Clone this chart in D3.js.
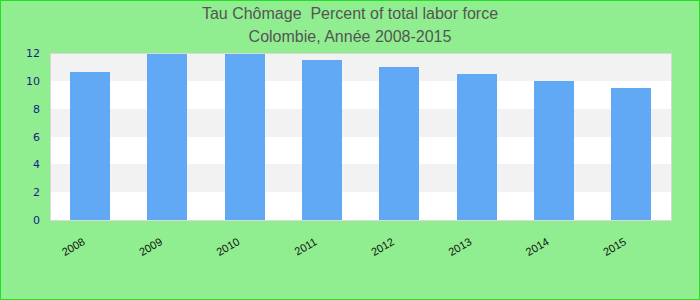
<!DOCTYPE html>
<html><head><meta charset="utf-8">
<script src="https://cdn.jsdelivr.net/npm/d3@7/dist/d3.min.js"></script>
<style>body{margin:0;background:#fff}svg{display:block}</style>
</head><body>
<svg id="c" width="700" height="300"></svg>
<script>
const years = ["2008","2009","2010","2011","2012","2013","2014","2015"];
const unemployment = [10.6, 11.9, 11.9, 11.5, 11.0, 10.5, 10.0, 9.5];
const yTicks = [0, 2, 4, 6, 8, 10, 12];
const titleLines = ["Tau Chômage  Percent of total labor force", "Colombie, Année 2008-2015"];

const svg = d3.select("#c");
const W = 700, H = 300;
const m = {left: 50, right: 29, top: 53, bottom: 80};
const pw = W - m.left - m.right, ph = H - m.top - m.bottom;

svg.append("rect").attr("x", 0.5).attr("y", 0.5).attr("width", W - 1).attr("height", H - 1)
  .attr("fill", "#90ee90").attr("stroke", "#22e022").attr("stroke-width", 1);

svg.selectAll("text.title").data(titleLines).enter().append("text")
  .attr("x", W / 2).attr("y", (d, i) => 19 + i * 23)
  .attr("text-anchor", "middle").attr("fill", "#555")
  .style("white-space", "pre")
  .style("font-family", "'Liberation Sans', Arial, sans-serif").style("font-size", "16px")
  .text(d => d);

const x = d3.scaleBand().domain(years).range([m.left, m.left + pw]).paddingInner(0.4843).paddingOuter(0.2578);
const y = d3.scaleLinear().domain([0, 12]).range([m.top + ph, m.top]);

const g = svg.append("g").attr("shape-rendering", "crispEdges");
const bands = d3.range(0, yTicks.length - 1).map(i => [yTicks[i], yTicks[i + 1], i]);
g.selectAll("rect.band").data(bands).enter().append("rect")
  .attr("x", m.left).attr("width", pw)
  .attr("y", d => Math.round(y(d[1]))).attr("height", d => Math.round(y(d[0])) - Math.round(y(d[1])))
  .attr("fill", d => d[2] % 2 === 0 ? "#ffffff" : "#f2f2f2");

g.selectAll("rect.bar").data(unemployment).enter().append("rect")
  .attr("x", (d, i) => Math.round(x(years[i]))).attr("width", Math.round(x.bandwidth()))
  .attr("y", d => Math.round(y(d))).attr("height", d => Math.round(y(0)) - Math.round(y(d)))
  .attr("fill", "#62a9f5");

g.append("rect").attr("x", m.left).attr("y", m.top).attr("width", pw).attr("height", ph)
  .attr("fill", "none").attr("stroke", "#d8d8d8").attr("stroke-width", 1);

const ya = svg.append("g").attr("transform", `translate(${m.left},0)`)
  .call(d3.axisLeft(y).tickValues(yTicks).tickSize(0).tickPadding(10));
ya.select(".domain").remove();
ya.selectAll("text").attr("fill", "#1a1a8c")
  .style("font-family", "'DejaVu Sans', sans-serif").style("font-size", "11px");

const xa = svg.append("g").attr("transform", `translate(0,${m.top + ph})`)
  .call(d3.axisBottom(x).tickSize(0).tickPadding(0));
xa.select(".domain").remove();
xa.selectAll("text")
  .attr("text-anchor", "end").attr("dy", "0").attr("y", 0)
  .attr("transform", "translate(-4,24) rotate(-30)")
  .attr("fill", "#111")
  .style("font-family", "'Liberation Sans', Arial, sans-serif").style("font-size", "11px");
</script>
</body></html>
